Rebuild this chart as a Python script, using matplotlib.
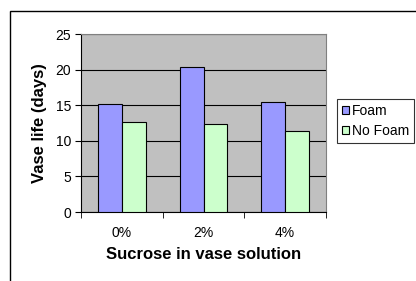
import numpy as np
import matplotlib.pyplot as plt
from matplotlib.patches import Rectangle

plt.rcParams['font.family'] = ['Liberation Sans', 'DejaVu Sans']

categories = ['0%', '2%', '4%']
foam = [15.1, 20.3, 15.5]
no_foam = [12.7, 12.3, 11.4]
series_names = ['Foam', 'No Foam']

fig = plt.figure(figsize=(4.16, 2.81), dpi=100)
W, H = 416, 281

# outer chart frame (runs off the right and bottom edge)
fig.patches.append(Rectangle((10 / W, -0.1), 1.2, 1 - 11 / H + 0.1,
                             transform=fig.transFigure, fill=False,
                             edgecolor='black', linewidth=1.0))

ax = fig.add_axes([81 / W, 1 - 212 / H, (326 - 81) / W, (212 - 34) / H])
ax.set_facecolor('#C0C0C0')

x = np.arange(len(categories))
bw = 0.29
ax.bar(x - bw / 2, foam, bw, color='#9999FF', edgecolor='black', linewidth=0.8,
       label=series_names[0], zorder=3)
ax.bar(x + bw / 2, no_foam, bw, color='#CCFFCC', edgecolor='black', linewidth=0.8,
       label=series_names[1], zorder=3)

ax.set_xlim(-0.5, len(categories) - 0.5)
ax.set_ylim(0, 25)
ax.set_yticks(range(0, 26, 5))
ax.yaxis.grid(True, color='black', linewidth=0.8, zorder=0)
ax.set_axisbelow(True)

ax.set_xticks(x)
ax.set_xticklabels(categories, fontsize=10)
ax.tick_params(axis='x', length=0, pad=10)
ax.set_xticks(np.arange(-0.5, len(categories), 1), minor=True)
ax.tick_params(axis='x', which='minor', length=4, direction='out', color='black')
ax.tick_params(axis='y', labelsize=10, length=4, direction='out', pad=3)

for side in ['top', 'right']:
    ax.spines[side].set_color('#808080')
    ax.spines[side].set_linewidth(0.8)
ax.spines['left'].set_color('black')
ax.spines['bottom'].set_color('black')

ax.set_ylabel('Vase life (days)', fontsize=12, fontweight='bold', labelpad=6)
ax.set_xlabel('Sucrose in vase solution', fontsize=12, fontweight='bold', labelpad=5)

leg = ax.legend(loc='upper left', bbox_to_anchor=(337 / W, 1 - 99 / H),
                bbox_transform=fig.transFigure, fontsize=10, frameon=True,
                fancybox=False, edgecolor='black', handlelength=0.5,
                handleheight=0.5, handletextpad=0.2, borderpad=0.35,
                labelspacing=0.45, borderaxespad=0)
leg.get_frame().set_linewidth(0.8)

fig.savefig('out.png', dpi=100)
